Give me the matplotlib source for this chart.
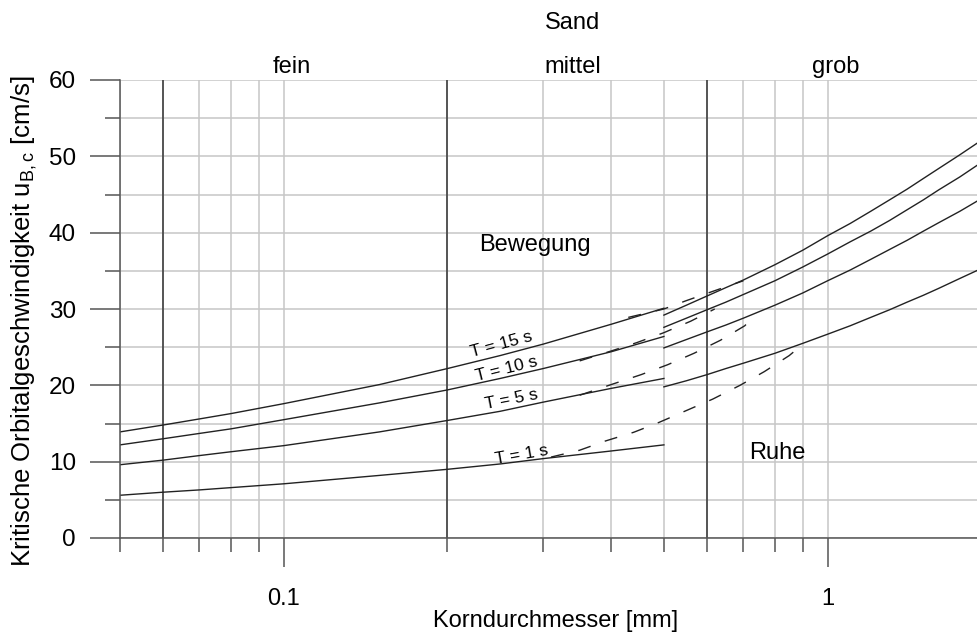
import matplotlib
matplotlib.use("Agg")
import matplotlib.pyplot as plt
from matplotlib.transforms import blended_transform_factory

plt.rcParams['font.family'] = ['Liberation Sans', 'DejaVu Sans']
plt.rcParams['mathtext.fontset'] = 'custom'
plt.rcParams['mathtext.rm'] = 'Liberation Sans'
plt.rcParams['lines.scale_dashes'] = False

# grain size [mm], left branch (d < 0.5 mm)
d_fine = [0.05, 0.06, 0.07, 0.08, 0.1, 0.15, 0.2, 0.25, 0.3, 0.4, 0.5]
u15_fine = [13.9, 14.8, 15.6, 16.3, 17.6, 20.1, 22.2, 23.9, 25.4, 28.0, 30.1]
u10_fine = [12.2, 13.0, 13.7, 14.3, 15.5, 17.7, 19.4, 20.9, 22.2, 24.4, 26.4]
u5_fine = [9.6, 10.2, 10.8, 11.3, 12.1, 13.9, 15.4, 16.6, 17.8, 19.6, 20.9]
u1_fine = [5.6, 6.0, 6.3, 6.6, 7.1, 8.2, 9.0, 9.7, 10.4, 11.4, 12.2]

# right branch (d > 0.5 mm)
d_coarse = [0.5, 0.55, 0.6, 0.65, 0.7, 0.8, 0.9, 1.0, 1.1, 1.2, 1.3, 1.4, 1.5, 1.6, 1.75, 1.89]
u15_coarse = [29.2, 30.5, 31.7, 32.8, 33.8, 35.8, 37.7, 39.6, 41.2, 42.8, 44.3, 45.7, 47.1, 48.4, 50.2, 51.8]
u10_coarse = [27.6, 28.8, 29.9, 30.9, 31.9, 33.7, 35.5, 37.2, 38.8, 40.2, 41.6, 43.0, 44.3, 45.6, 47.3, 48.9]
u5_coarse = [24.9, 26.0, 27.0, 27.9, 28.8, 30.5, 32.1, 33.7, 35.1, 36.5, 37.8, 39.0, 40.2, 41.3, 42.8, 44.2]
u1_coarse = [19.8, 20.6, 21.4, 22.2, 22.9, 24.2, 25.5, 26.7, 27.8, 28.9, 29.9, 30.9, 31.8, 32.7, 34.0, 35.1]

# dashed transition curves
d_dash15 = [0.43, 0.50, 0.55, 0.62, 0.70]
u_dash15 = [28.9, 30.0, 31.1, 32.4, 33.7]
d_dash10 = [0.35, 0.40, 0.446, 0.50, 0.56, 0.62]
u_dash10 = [23.2, 24.5, 25.6, 26.9, 28.4, 30.0]
d_dash5 = [0.35, 0.40, 0.454, 0.508, 0.568, 0.635, 0.704, 0.72]
u_dash5 = [18.7, 20.1, 21.4, 22.7, 24.2, 25.9, 27.8, 28.5]
d_dash1 = [0.31, 0.35, 0.39, 0.44, 0.49, 0.55, 0.615, 0.69, 0.765, 0.85, 0.87]
u_dash1 = [10.6, 11.5, 12.7, 13.85, 15.15, 16.7, 18.2, 20.0, 21.8, 23.9, 24.5]

period_labels = ["T = 15 s", "T = 10 s", "T = 5 s", "T = 1 s"]
label_d = [0.251, 0.257, 0.262, 0.274]
label_u = [25.3, 22.1, 18.1, 10.9]
label_rot = [15, 14, 11, 10]

class_bounds = [0.06, 0.2, 0.6]
class_names = ["fein", "mittel", "grob"]
class_pos = [0.1036, 0.34, 1.036]

fig = plt.figure(figsize=(9.78, 6.36), dpi=100)
ax = fig.add_axes([120 / 978, 1 - 538 / 636, 858 / 978, 458 / 636])
ax.set_xscale('log')
ax.set_xlim(0.05, 1.89)
ax.set_ylim(0, 60)

# ticks and grid
ax.set_xticks([0.1, 1])
ax.set_xticklabels(["0.1", "1"])
ax.set_xticks([0.05, 0.06, 0.07, 0.08, 0.09, 0.2, 0.3, 0.4, 0.5, 0.6, 0.7, 0.8, 0.9], minor=True)
ax.xaxis.set_minor_formatter(plt.NullFormatter())
ax.set_yticks(range(0, 61, 10))
ax.set_yticks(range(5, 60, 10), minor=True)

ax.grid(True, which='both', color='#c6c6c6', lw=1.1)
ax.set_axisbelow(True)
for s in ['top', 'right']:
    ax.spines[s].set_visible(False)
for s in ['left', 'bottom']:
    ax.spines[s].set_color('#555555')
    ax.spines[s].set_linewidth(1.1)

ax.tick_params(axis='x', which='major', length=21, width=1.1, color='#555555', labelsize=17, pad=15)
ax.tick_params(axis='x', which='minor', length=10, width=1.1, color='#555555')
ax.tick_params(axis='y', which='major', length=21.6, width=1.1, color='#555555', labelsize=17.5, pad=10)
ax.tick_params(axis='y', which='minor', length=10.8, width=1.1, color='#555555')

for b in class_bounds:
    ax.axvline(b, color='#333333', lw=1.1, zorder=1.5)

# curves
lc = '#222222'
for u in [u15_fine, u10_fine, u5_fine, u1_fine]:
    ax.plot(d_fine, u, color=lc, lw=1.0)
for u in [u15_coarse, u10_coarse, u5_coarse, u1_coarse]:
    ax.plot(d_coarse, u, color=lc, lw=1.0)
for d, u in [(d_dash15, u_dash15), (d_dash10, u_dash10), (d_dash5, u_dash5), (d_dash1, u_dash1)]:
    ax.plot(d, u, color=lc, lw=1.0, dashes=(9.4, 10.8))

for t, x, y, r in zip(period_labels, label_d, label_u, label_rot):
    ax.text(x, y, t, fontsize=12.5, rotation=r, rotation_mode='anchor',
            ha='center', va='center')

ax.text(0.29, 38.4, "Bewegung", fontsize=17, ha='center', va='center')
ax.text(0.808, 11.1, "Ruhe", fontsize=17, ha='center', va='center')

trans = blended_transform_factory(ax.transData, ax.transAxes)
for name, x in zip(class_names, class_pos):
    ax.text(x, 1.0146, name, transform=trans, fontsize=17, ha='center', va='baseline')
ax.text(0.34, 1.112, "Sand", transform=trans, fontsize=17, ha='center', va='baseline')

fig.text(556 / 978, 1 - 621 / 636, "Korndurchmesser [mm]", fontsize=17, ha='center', va='center')
fig.text(24 / 978, 1 - 321 / 636, r"Kritische Orbitalgeschwindigkeit u$_\mathrm{B,c}$ [cm/s]",
         fontsize=18.5, rotation=90, ha='center', va='center')

fig.savefig("out.png", dpi=100)
